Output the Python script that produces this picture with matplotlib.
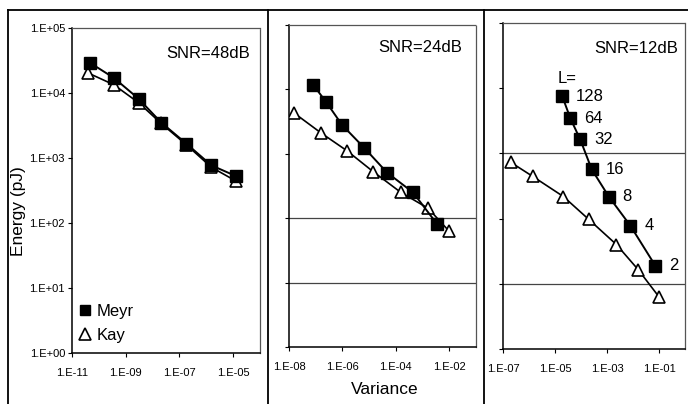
import matplotlib
matplotlib.use("Agg")
import matplotlib.pyplot as plt
from matplotlib.lines import Line2D
from matplotlib.ticker import FixedLocator, FixedFormatter, NullLocator

plt.rcParams['font.family'] = ['Liberation Sans', 'DejaVu Sans']

# ---------------- data ----------------
snr_titles = ["SNR=48dB", "SNR=24dB", "SNR=12dB"]

# SNR = 48 dB
meyr48_x = [4.7e-11, 3.6e-10, 3.0e-9, 2.1e-8, 1.8e-7, 1.55e-6, 1.3e-5]
meyr48_y = [29100, 17100, 8180, 3510, 1670, 770, 525]
kay48_x = [3.9e-11, 3.6e-10, 3.0e-9, 2.1e-8, 1.8e-7, 1.55e-6, 1.3e-5]
kay48_y = [20400, 13400, 7100, 3400, 1600, 720, 440]

# SNR = 24 dB
meyr24_x = [7.9e-8, 2.5e-7, 9.8e-7, 6.5e-6, 4.7e-5, 4.4e-4, 3.5e-3]
meyr24_y = [11900, 6300, 2790, 1240, 510, 251, 81]
kay24_x = [1.55e-8, 1.6e-7, 1.5e-6, 1.4e-5, 1.55e-4, 1.6e-3, 9.8e-3]
kay24_y = [4300, 2100, 1110, 530, 251, 143, 63]

# SNR = 12 dB
meyr12_x = [1.9e-5, 3.9e-5, 9.3e-5, 2.6e-4, 1.17e-3, 7.9e-3, 7.2e-2]
meyr12_y = [7530, 3450, 1640, 567, 218, 78, 19]
kay12_x = [2.0e-7, 1.4e-6, 2.1e-5, 2.0e-4, 2.3e-3, 1.6e-2, 1.0e-1]
kay12_y = [728, 443, 218, 97, 40, 16.4, 6.3]

L_labels = ["128", "64", "32", "16", "8", "4", "2"]

y_ticks = [1e0, 1e1, 1e2, 1e3, 1e4, 1e5]
y_ticklabels = ["1.E+00", "1.E+01", "1.E+02", "1.E+03", "1.E+04", "1.E+05"]

x_ticks_48 = [1e-11, 1e-9, 1e-7, 1e-5]
x_labels_48 = ["1.E-11", "1.E-09", "1.E-07", "1.E-05"]
x_ticks_24 = [1e-8, 1e-6, 1e-4, 1e-2]
x_labels_24 = ["1.E-08", "1.E-06", "1.E-04", "1.E-02"]
x_ticks_12 = [1e-7, 1e-5, 1e-3, 1e-1]
x_labels_12 = ["1.E-07", "1.E-05", "1.E-03", "1.E-01"]

x_limits = [(1e-11, 1e-4), (1e-8, 1e-1), (1e-7, 1e0)]
grid_levels = [[], [1e2, 1e1], [1e3, 1e1]]

# ---------------- layout ----------------
W, H = 688, 404
fig = plt.figure(figsize=(W / 100, H / 100), dpi=100)

def px_axes(left, top, right, bottom):
    return fig.add_axes([left / W, 1 - bottom / H, (right - left) / W, (bottom - top) / H])

axes = [px_axes(72, 28, 260, 353), px_axes(289, 25, 476, 347), px_axes(503, 23, 685, 349)]
title_pos = [(0.947, 0.923), (0.925, 0.929), (0.962, 0.923)]

# outer frame lines
def fig_line(x0, y0, x1, y1, lw=1.3):
    fig.add_artist(Line2D([x0 / W, x1 / W], [1 - y0 / H, 1 - y1 / H],
                          color="black", lw=lw, transform=fig.transFigure))

fig_line(8, 10, 688, 10)
fig_line(8, 10, 8, 404)
fig_line(268, 10, 268, 404)
fig_line(484, 10, 484, 404)

series = [
    (meyr48_x, meyr48_y, kay48_x, kay48_y, x_ticks_48, x_labels_48),
    (meyr24_x, meyr24_y, kay24_x, kay24_y, x_ticks_24, x_labels_24),
    (meyr12_x, meyr12_y, kay12_x, kay12_y, x_ticks_12, x_labels_12),
]

for i, (ax, (mx, my, kx, ky, xt, xl)) in enumerate(zip(axes, series)):
    ax.set_xscale("log")
    ax.set_yscale("log")
    ax.set_xlim(*x_limits[i])
    ax.set_ylim(1e0, 1e5)
    for g in grid_levels[i]:
        ax.axhline(g, color="#444444", lw=0.9, zorder=1)
    ax.plot(kx, ky, color="black", lw=1.2, marker="^", markersize=8.5,
            markerfacecolor="white", markeredgecolor="black", markeredgewidth=1.2,
            label="Kay", zorder=3)
    ax.plot(mx, my, color="black", lw=1.4, marker="s", markersize=8,
            markerfacecolor="black", markeredgecolor="black",
            label="Meyr", zorder=4)
    ax.xaxis.set_major_locator(FixedLocator(xt))
    ax.xaxis.set_major_formatter(FixedFormatter(xl))
    ax.xaxis.set_minor_locator(NullLocator())
    ax.yaxis.set_major_locator(FixedLocator(y_ticks))
    ax.yaxis.set_minor_locator(NullLocator())
    if i == 0:
        ax.yaxis.set_major_formatter(FixedFormatter(y_ticklabels))
    else:
        ax.yaxis.set_major_formatter(FixedFormatter([""] * len(y_ticks)))
    ax.tick_params(axis="both", direction="out", length=3, width=0.8,
                   labelsize=8, pad=2)
    ax.tick_params(axis="x", pad=8)
    for side in ["top", "right"]:
        ax.spines[side].set_color("#555555")
        ax.spines[side].set_linestyle((0, (1, 1)))
        ax.spines[side].set_linewidth(0.9)
    for side in ["left", "bottom"]:
        ax.spines[side].set_linewidth(1.1)
    ax.text(title_pos[i][0], title_pos[i][1], snr_titles[i], transform=ax.transAxes,
            ha="right", va="center", fontsize=12)

# y label and x label
fig.text(19 / W, 1 - 211 / H, "Energy (pJ)", rotation=90, ha="center", va="center",
         fontsize=12.5)
fig.text(385 / W, 1 - 389 / H, "Variance", ha="center", va="center", fontsize=12.5)

# legend in first panel
h_meyr = Line2D([], [], linestyle="none", marker="s", markersize=7,
                markerfacecolor="black", markeredgecolor="black")
h_kay = Line2D([], [], linestyle="none", marker="^", markersize=8,
               markerfacecolor="white", markeredgecolor="black", markeredgewidth=1.2)
axes[0].legend([h_meyr, h_kay], ["Meyr", "Kay"], loc="lower left",
               bbox_to_anchor=(-0.045, -0.015), frameon=False, fontsize=12,
               handlelength=0.8, handletextpad=0.3, labelspacing=0.55)

# L labels in third panel
ax3 = axes[2]
ax3.annotate("L=", (meyr12_x[0], meyr12_y[0]), xytext=(-3, 13),
             textcoords="offset points", ha="left", va="center", fontsize=12)
for xv, yv, lab in zip(meyr12_x, meyr12_y, L_labels):
    ax3.annotate(lab, (xv, yv), xytext=(10, 0), textcoords="offset points",
                 ha="left", va="center", fontsize=12)

fig.savefig("out.png", dpi=100)
